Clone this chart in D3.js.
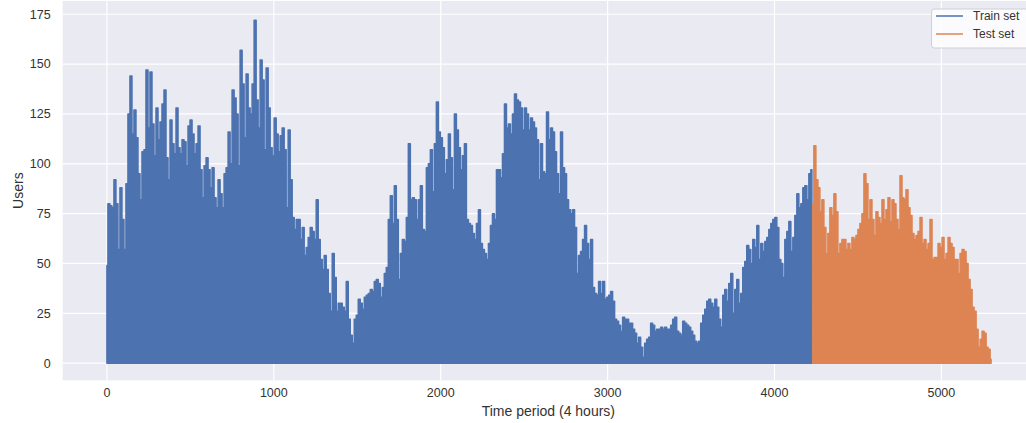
<!DOCTYPE html>
<html>
<head>
<meta charset="utf-8">
<script src="https://cdn.jsdelivr.net/npm/d3@7"></script>
<style>
    body { margin: 0; background: #fff; }
    svg { display: block; font-family: "Liberation Sans", Arial, sans-serif; }
</style>
</head>
<body>
<div id="chart"></div>
<script>
// Time periods between two samples and the first period of the test set
var sampleStep = 12;
var testStart = 4230;

// Users per sample of the training part
var trainUsers = [
    49,80,79,78,92,80,57,88,72,57, 90,125,144,115,127,113,95,82,106,107,
    147,118,146,120,104,128,112,121,130,137, 103,92,122,110,105,128,108,105,112,111,
    99,119,122,115,105,110,119,97,83,99, 103,97,88,98,83,78,92,85,78,95,
    98,116,100,137,133,125,99,157,140,113, 145,128,
    125,140,172,132,118,152,142,107,148,128, 108,104,123,115,106,114,118,107,78,117,
    92,73,67,72,72,62,68,54,58,63, 68,66,62,82,62,52,47,54,47,35,
    26,55,43,26,30,30,28,26,41,22, 14,10,22,24,32,30,27,33,34,35,
    37,36,41,42,40,33,38,45,48,72, 84,70,89,72,42,
    55,62,61,73,110,82,83,82,72,82, 89,67,66,98,100,107,86,110,131,116,
    113,108,95,102,115,103,87,125,117,108, 97,104,110,72,70,69,65,62,70,77,
    60,57,55,52,60,69,75,72,97,97, 93,105,130,118,120,115,125,135,132,131,
    128,117,128,125,117,123,121,118,112,92, 110,96,95,126,112,
    118,116,106,95,85,116,98,95,82,77, 75,77,68,45,54,56,62,69,60,52,
    62,38,35,34,41,35,41,32,33,34, 36,31,22,21,19,16,23,22,22,20,
    20,17,15,10,13,8,3,10,12,13, 20,19,16,17,17,18,17,18,17,17,
    19,22,23,16,15,14,21,20,19,18, 16,14,11,10,11,
    20,24,27,31,32,30,28,32,28,22, 18,34,37,31,40,45,25,37,42,30,
    35,48,51,59,57,50,62,58,69,52, 60,56,61,63,67,70,72,73,68,52,
    50,43,62,66,71,56,63,74,85,78, 80,88,89,82,95,97
];

// Users per sample of the test part
var testUsers = [
    80,109,92,88,76,82,68,55,65,78, 74,85,76,55,60,62,62,57,60,
    57,63,62,64,67,70,75,95,90,72, 82,72,64,76,73,70,82,72,77,83,
    71,82,80,72,67,94,83,82,87,78, 74,65,62,64,66,73,60,62,57,60,
    72,52,53,53,60,58,63,52,55,63, 60,58,52,52,45,55,57,56,50,42,
    37,28,26,17,8,12,16,15,8,7, 2
];

// Tick values of both axes
var xTicks = [0, 1000, 2000, 3000, 4000, 5000];
var yTicks = [0, 25, 50, 75, 100, 125, 150, 175];

// Series names and colors of the legend
var seriesNames = ['Train set', 'Test set'];
var seriesColors = ['#4c72b0', '#dd8452'];

/* Draws the users over time, split in a train and a test part,
   in a seaborn darkgrid look.
*/
class UsersChart {
    /* Constructor that stores the chart's variables
    */
    constructor(selector, params={}) {
        // Get the size of the picture
        this.width = params.width || 1026;
        this.height = params.height || 423;

        // Set the plot area, the right side runs off the picture
        this.plot = { left: 62.7, top: 0.9, right: 1034, bottom: 380.4 };

        // Build the points of both series
        this.series = [
            trainUsers.map(function(v, i){ return { t: i * sampleStep, v: v }; }),
            testUsers.map(function(v, i){ return { t: testStart + i * sampleStep, v: v }; })
        ];

        // Initialize the svg
        this.svg = d3.select(selector)
            .append('svg')
            .attr('width', this.width)
            .attr('height', this.height);

        // Set the scales of the chart
        this.xScale = d3.scaleLinear()
            .domain([-265, 5555])
            .range([this.plot.left, this.plot.right]);
        this.yScale = d3.scaleLinear()
            .domain([-8.65, 181.7])
            .range([this.plot.bottom, this.plot.top]);

        this.draw();
    }

    /* Draws the background and the white grid lines
    */
    drawGrid() {
        var p = this.plot, x = this.xScale, y = this.yScale;

        // Plot background
        this.svg.append('rect')
            .attr('x', p.left)
            .attr('y', p.top)
            .attr('width', p.right - p.left)
            .attr('height', p.bottom - p.top)
            .attr('fill', '#eaeaf2');

        var grid = this.svg.append('g').attr('stroke', '#fff').attr('stroke-width', 1.2);

        // Horizontal lines
        grid.selectAll('line.h')
            .data(yTicks)
            .enter()
            .append('line')
            .attr('x1', p.left)
            .attr('x2', p.right)
            .attr('y1', function(d){ return y(d); })
            .attr('y2', function(d){ return y(d); });

        // Vertical lines
        grid.selectAll('line.v')
            .data(xTicks)
            .enter()
            .append('line')
            .attr('y1', p.top)
            .attr('y2', p.bottom)
            .attr('x1', function(d){ return x(d); })
            .attr('x2', function(d){ return x(d); });
    }

    /* Draws both series as a dense spiky fill down to zero
    */
    drawSeries() {
        var x = this.xScale, y = this.yScale;

        // Steps keep the narrow spikes of the daily cycle
        var area = d3.area()
            .curve(d3.curveStep)
            .x(function(d){ return x(d.t); })
            .y0(y(0))
            .y1(function(d){ return y(d.v); });

        var holder = this.svg.append('g');

        this.series.forEach(function(s, i){
            holder.append('path')
                .attr('d', area(s))
                .attr('fill', seriesColors[i])
                .attr('stroke', seriesColors[i])
                .attr('stroke-width', 1.5)
                .attr('stroke-linejoin', 'round');
        });
    }

    /* Draws the tick labels and the axis titles
    */
    drawAxes() {
        var p = this.plot, x = this.xScale, y = this.yScale;

        // Y tick labels
        this.svg.append('g')
            .selectAll('text')
            .data(yTicks)
            .enter()
            .append('text')
            .text(function(d){ return d; })
            .attr('x', p.left - 12)
            .attr('y', function(d){ return y(d); })
            .attr('dy', '0.35em')
            .attr('text-anchor', 'end')
            .attr('font-size', '12.5px')
            .attr('fill', '#333');

        // X tick labels
        this.svg.append('g')
            .selectAll('text')
            .data(xTicks)
            .enter()
            .append('text')
            .text(function(d){ return d; })
            .attr('x', function(d){ return x(d); })
            .attr('y', 397)
            .attr('text-anchor', 'middle')
            .attr('font-size', '12.5px')
            .attr('fill', '#333');

        // X axis title
        this.svg.append('text')
            .text('Time period (4 hours)')
            .attr('x', (p.left + p.right) / 2)
            .attr('y', 416)
            .attr('text-anchor', 'middle')
            .attr('font-size', '14px')
            .attr('fill', '#333');

        // Y axis title
        this.svg.append('text')
            .text('Users')
            .attr('transform', 'translate(23,' + (p.top + p.bottom) / 2 + ') rotate(-90)')
            .attr('text-anchor', 'middle')
            .attr('font-size', '14px')
            .attr('fill', '#333');
    }

    /* Draws the legend in the upper right corner
    */
    drawLegend() {
        var legend = this.svg.append('g');

        legend.append('rect')
            .attr('x', 931.5)
            .attr('y', 9)
            .attr('width', 110)
            .attr('height', 39)
            .attr('rx', 3)
            .attr('fill', '#fff')
            .attr('fill-opacity', 0.8)
            .attr('stroke', '#d0d0d0');

        var rows = legend.selectAll('g.row')
            .data(seriesNames)
            .enter()
            .append('g')
            .attr('transform', function(d, i){ return 'translate(0,' + (16 + i * 18) + ')'; });

        rows.append('line')
            .attr('x1', 936)
            .attr('x2', 963)
            .attr('stroke', function(d, i){ return seriesColors[i]; })
            .attr('stroke-width', 1.5);

        rows.append('text')
            .text(function(d){ return d; })
            .attr('x', 973)
            .attr('dy', '0.35em')
            .attr('font-size', '12px')
            .attr('fill', '#333');
    }

    /* Draw the complete chart
    */
    draw() {
        this.drawGrid();
        this.drawSeries();
        this.drawAxes();
        this.drawLegend();
    }
}

new UsersChart('#chart', { width: 1026, height: 423 });
</script>
</body>
</html>
